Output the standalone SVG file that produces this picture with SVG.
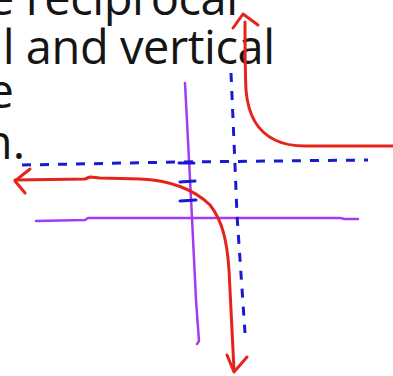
<svg xmlns="http://www.w3.org/2000/svg" width="393" height="376" viewBox="0 0 393 376">
  <style>
    .txt { font-family: "Open Sans", "Liberation Sans", sans-serif; font-size: 47px; fill: #151515; text-anchor: end; }
    .axis { fill: none; stroke: #a13cf2; stroke-width: 2.5; stroke-linecap: round; stroke-linejoin: round; }
    .asym { fill: none; stroke: #1a1ad2; stroke-width: 3; stroke-dasharray: 9 9; }
    .tick { fill: none; stroke: #1a1ad2; stroke-width: 3; stroke-linecap: round; }
    .curve { fill: none; stroke: #e5231b; stroke-width: 3; stroke-linecap: round; stroke-linejoin: round; }
  </style>
  <rect width="393" height="376" fill="#ffffff"/>
  <g id="text">
    <text class="txt" x="238" y="15" textLength="250" lengthAdjust="spacing">e reciprocal</text>
    <text class="txt" x="275" y="64" textLength="298" lengthAdjust="spacing">al and vertical</text>
    <text class="txt" x="14" y="108">e</text>
    <text class="txt" x="25" y="159">n.</text>
  </g>
  <g id="axes">
    <path class="axis" d="M185,83 L189,160 L192,218 L196,300 L199,341 L197,344"/>
    <path class="axis" d="M36,221 L85,220 L88,218 L200,218 L340,218 L345,219 L358,219"/>
  </g>
  <g id="asymptotes">
    <path class="asym" d="M22,165 L180,162 L368,160"/>
    <path class="asym" d="M231,73 L235,165 L237,215 L245,333"/>
    <path class="tick" d="M179,163 L194,163 M180,182 L195,181 M180,201 L196,200"/>
  </g>
  <g id="connectors">
    <path class="curve" d="M245,22 C245,40 245,70 246,90 C248,115 258,132 275,140 C285,145 295,146 305,146 L393,146"/>
    <path class="curve" d="M233,28 L243,14 L258,25"/>
    <path class="curve" d="M15,180 L85,179 L90,177 L100,178 L140,179 C170,180 195,190 210,205 C222,220 227,240 229,270 L234,370"/>
    <path class="curve" d="M30,169 L15,181 L25,193"/>
    <path class="curve" d="M227,355 L234,372 L247,357"/>
  </g>
</svg>
